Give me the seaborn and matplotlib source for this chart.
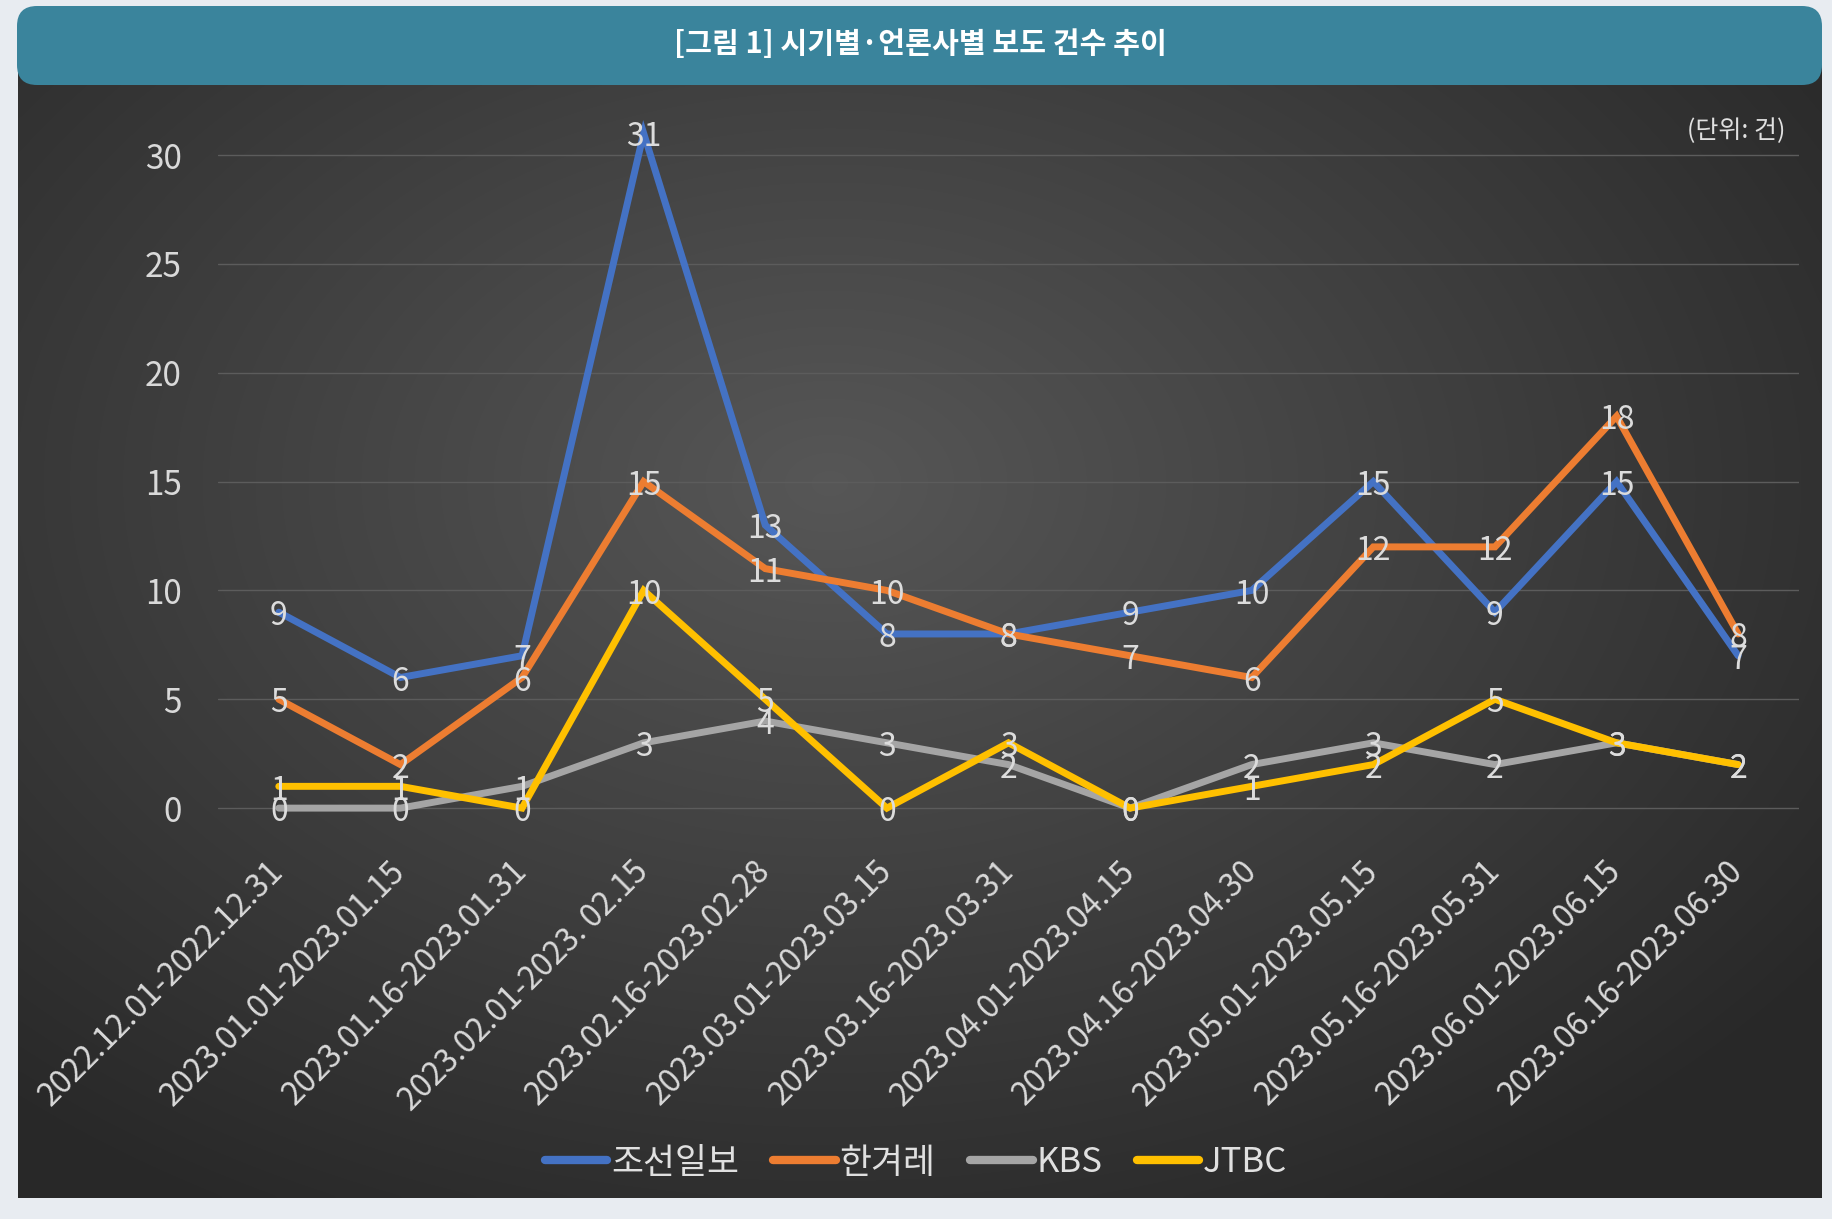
import numpy as np
import pandas as pd
import matplotlib
matplotlib.use("Agg")
import matplotlib.pyplot as plt
from matplotlib.patches import FancyBboxPatch
from matplotlib.lines import Line2D
import seaborn as sns

periods = ["2022.12.01-2022.12.31", "2023.01.01-2023.01.15", "2023.01.16-2023.01.31",
           "2023.02.01-2023. 02.15", "2023.02.16-2023.02.28", "2023.03.01-2023.03.15",
           "2023.03.16-2023.03.31", "2023.04.01-2023.04.15", "2023.04.16-2023.04.30",
           "2023.05.01-2023.05.15", "2023.05.16-2023.05.31", "2023.06.01-2023.06.15",
           "2023.06.16-2023.06.30"]
chosun = [9, 6, 7, 31, 13, 8, 8, 9, 10, 15, 9, 15, 7]
hankyoreh = [5, 2, 6, 15, 11, 10, 8, 7, 6, 12, 12, 18, 8]
kbs = [0, 0, 1, 3, 4, 3, 2, 0, 2, 3, 2, 3, 2]
jtbc = [1, 1, 0, 10, 5, 0, 3, 0, 1, 2, 5, 3, 2]

media = ["조선일보", "한겨레", "KBS", "JTBC"]
colors = ["#4472c4", "#ed7d31", "#a5a5a5", "#ffc000"]
title = "[그림 1] 시기별·언론사별 보도 건수 추이"
unit = "(단위: 건)"

rows = []
for name, vals in zip(media, [chosun, hankyoreh, kbs, jtbc]):
    for p, v in zip(periods, vals):
        rows.append({"period": p, "media": name, "count": v})
df = pd.DataFrame(rows)

sns.set_style("dark")
plt.rcParams["font.family"] = ["Noto Sans CJK KR", "DejaVu Sans"]

W, H = 1832, 1219
fig = plt.figure(figsize=(W / 100, H / 100), dpi=100, facecolor="#e8ecf1")


def px_axes(x0, y0, x1, y1, **kw):
    # pixel box measured from top-left
    return fig.add_axes([x0 / W, 1 - y1 / H, (x1 - x0) / W, (y1 - y0) / H], **kw)


# dark panel with radial gradient
bg = px_axes(18, 45, 1822, 1198)
yy, xx = np.mgrid[0:1:300j, 0:1:450j]
r = np.sqrt(((xx - 0.45) / 0.75) ** 2 + ((yy - 0.38) / 0.8) ** 2)
shade = np.clip(0.34 - 0.2 * r, 0.16, 0.34)
bg.imshow(np.dstack([shade] * 3), aspect="auto", extent=[0, 1, 1, 0], interpolation="bicubic")
bg.set_axis_off()

# title bar
tb = px_axes(15, 4, 1824, 87)
tb.set_xlim(0, 1809)
tb.set_ylim(0, 83)
tb.add_patch(FancyBboxPatch((2, 2), 1805, 79, boxstyle="round,pad=0,rounding_size=20",
                            fc="#3a849c", ec="none"))
tb.text(905, 43, title, ha="center", va="center", color="white", fontsize=21,
        fontweight="bold")
tb.set_axis_off()

# main plot
ax = px_axes(218, 111.5, 1799, 819)
ax.set_facecolor("none")
sns.lineplot(data=df, x="period", y="count", hue="media", hue_order=media,
             palette=colors, linewidth=5, sort=False, ax=ax, legend=False)
for line in ax.lines:
    line.set_clip_on(False)
    line.set_solid_joinstyle("miter")

for name, vals in zip(media, [chosun, hankyoreh, kbs, jtbc]):
    for i, v in enumerate(vals):
        ax.annotate(str(v), (i, v), xytext=(0, -3), textcoords="offset points",
                    ha="center", va="center", color="#dcdcdc", fontsize=23, zorder=5)

ax.set_xlim(-0.5, len(periods) - 0.5)
ax.set_ylim(-0.5, 32)
ax.set_yticks(range(0, 31, 5))
ax.grid(axis="y", color="#5c5c5c", linewidth=1)
ax.grid(axis="x", visible=False)
for s in ax.spines.values():
    s.set_visible(False)
ax.set_xlabel("")
ax.set_ylabel("")
ax.tick_params(axis="y", colors="#d9d9d9", labelsize=24, length=0, pad=26)
ax.tick_params(axis="x", colors="#d9d9d9", labelsize=23, length=0, pad=34)
ax.set_xticks(range(len(periods)))
ax.set_xticklabels(periods, rotation=45, ha="right", va="center", rotation_mode="anchor")

ax.text(1785 / W, 1 - 131 / H, unit, transform=fig.transFigure, ha="right", va="center",
        color="#e0e0e0", fontsize=18)

handles = [Line2D([], [], color=c, linewidth=6, solid_capstyle="round") for c in colors]
fig.legend(handles, media, loc="center", bbox_to_anchor=(0.5, 1 - 1163 / H), ncol=4,
           frameon=False, fontsize=25, handlelength=1.8, handletextpad=0.1,
           columnspacing=1.0, labelcolor="#e0e0e0")

fig.savefig("out.png", dpi=100, facecolor=fig.get_facecolor())
